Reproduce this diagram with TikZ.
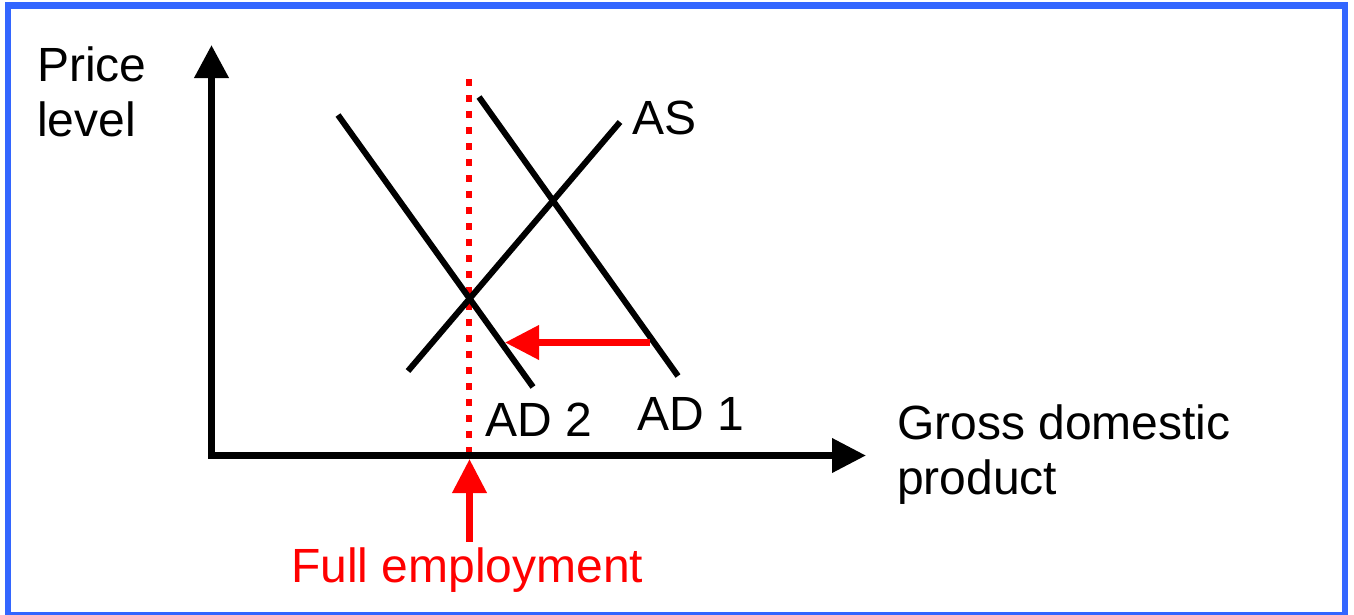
\documentclass[tikz,border=0pt]{standalone}
\usepackage{fontspec}
\setmainfont{Liberation Sans}
\usetikzlibrary{arrows.meta}
\definecolor{frameblue}{HTML}{3366FF}
\definecolor{pure red}{HTML}{FF0000}
\begin{document}
\begin{tikzpicture}[x=1pt,y=-1pt,
  lbl/.style={inner sep=0pt,anchor=base west,font=\fontsize{48}{55}\selectfont,align=left},
  curve/.style={line width=6pt,black},
  axisline/.style={line width=7pt,black,line join=miter},
  redarrow/.style={line width=7pt,pure red,-{Triangle[length=34pt,width=33pt]}}]
\useasboundingbox (0,0) rectangle (1354,614);
\fill[white] (0,0) rectangle (1354,614);
\draw[frameblue,line width=6.5pt] (8,5.5) rectangle (1345,615.5);
% coordinates
\coordinate (ytip) at (211.5,45);
\coordinate (origin) at (211.5,455.5);
\coordinate (xtip) at (866,455.5);
\coordinate (ad2a) at (338,115);
\coordinate (ad2b) at (533,387);
\coordinate (ad1a) at (479,97);
\coordinate (ad1b) at (678,376);
\coordinate (asa) at (408,371);
\coordinate (asb) at (620,122);
\coordinate (fetop) at (469,79);
\coordinate (febot) at (469,455);
\coordinate (featail) at (469.5,542);
\coordinate (featip) at (469.5,459);
\coordinate (shtail) at (650,342.5);
\coordinate (shtip) at (505,342.5);
% dotted full employment line
\draw[pure red,line width=6pt,dash pattern=on 7pt off 9pt] (fetop) -- (febot);
% curves
\draw[curve] (ad2a) -- (ad2b);
\draw[curve] (ad1a) -- (ad1b);
\draw[curve] (asa) -- (asb);
% axes
\draw[axisline,{Triangle[length=33pt,width=33pt]}-{Triangle[length=34pt,width=33pt]}] (ytip) -- (origin) -- (xtip);
% red arrows
\draw[redarrow] (featail) -- (featip);
\draw[redarrow] (shtail) -- (shtip);
% labels
\node[lbl] (price) at (37,136) {Price\\level};
\node[lbl] (as) at (632,134) {AS};
\node[lbl] (ad2) at (485,436) {AD 2};
\node[lbl] (ad1) at (637,430) {AD 1};
\node[lbl] (gdp) at (897,494) {Gross domestic\\product};
\node[lbl,text=pure red] (fe) at (291,582) {Full employment};
\end{tikzpicture}
\end{document}
